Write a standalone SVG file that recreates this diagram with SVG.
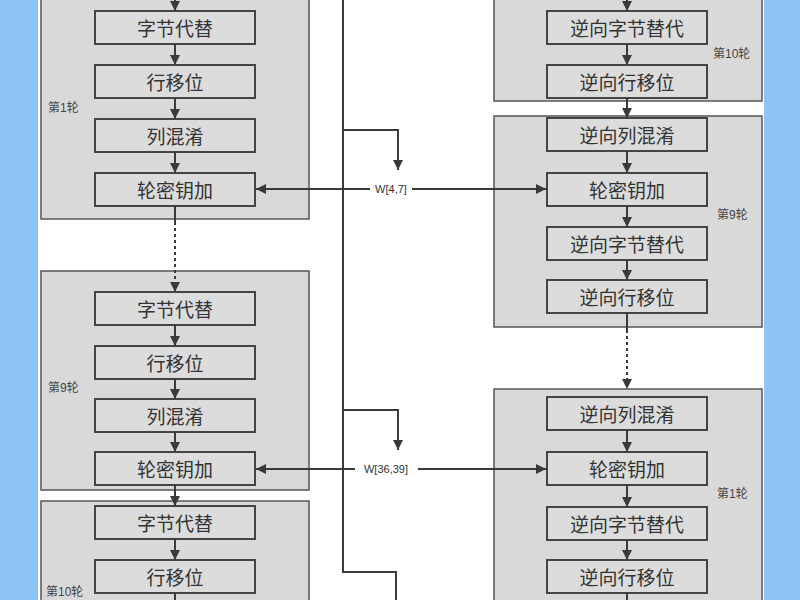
<svg xmlns="http://www.w3.org/2000/svg" width="800" height="600" viewBox="0 0 800 600">
<defs>
<marker id="ah" viewBox="0 0 10 10" refX="10" refY="5" markerWidth="10" markerHeight="10" markerUnits="userSpaceOnUse" orient="auto"><path d="M0,0 L10,5 L0,10 z" fill="#3a3a3a"/></marker>
<style>
.outer{fill:#d9d9d9;stroke:#555;stroke-width:1.5}
.box{fill:#dcdcdc;stroke:#444;stroke-width:2}
.t{font-family:"Noto Sans CJK SC","Liberation Serif",serif;font-size:19px;fill:#333;text-anchor:middle;dominant-baseline:central}
.l{font-family:"Liberation Sans","Noto Sans CJK SC",sans-serif;font-size:12px;fill:#444}
.w{font-family:"Liberation Sans",sans-serif;font-size:11px;fill:#333;text-anchor:middle;dominant-baseline:central}
.c{fill:none;stroke:#3a3a3a;stroke-width:2}
.a{fill:none;stroke:#3a3a3a;stroke-width:2;marker-end:url(#ah)}
</style>
</defs>
<rect width="800" height="600" fill="#fff"/>
<rect x="0" y="0" width="38" height="600" fill="#8ec5f7"/>
<rect x="764" y="0" width="36" height="600" fill="#8ec5f7"/>
<g id="round1"><rect class="outer" x="41" y="-5" width="268" height="224"/><text class="l" x="48" y="112">第1轮</text></g>
<g id="round9"><rect class="outer" x="41" y="271" width="268" height="219"/><text class="l" x="48" y="392">第9轮</text></g>
<g id="round10"><rect class="outer" x="41" y="501" width="268" height="110"/><text class="l" x="46" y="596">第10轮</text></g>
<g id="iround10"><rect class="outer" x="494" y="-5" width="268" height="106"/><text class="l" x="713" y="58">第10轮</text></g>
<g id="iround9"><rect class="outer" x="494" y="116" width="268" height="211"/><text class="l" x="717" y="219">第9轮</text></g>
<g id="iround1"><rect class="outer" x="494" y="389" width="268" height="220"/><text class="l" x="717" y="498">第1轮</text></g>
<g id="l1"><rect class="box" x="95" y="11" width="160" height="33"/><text class="t" x="175" y="27">字节代替</text></g>
<g id="l2"><rect class="box" x="95" y="65" width="160" height="33"/><text class="t" x="175" y="81">行移位</text></g>
<g id="l3"><rect class="box" x="95" y="119" width="160" height="33"/><text class="t" x="175" y="135">列混淆</text></g>
<g id="l4"><rect class="box" x="95" y="173" width="160" height="33"/><text class="t" x="175" y="189">轮密钥加</text></g>
<g id="l5"><rect class="box" x="95" y="292" width="160" height="33"/><text class="t" x="175" y="308">字节代替</text></g>
<g id="l6"><rect class="box" x="95" y="346" width="160" height="33"/><text class="t" x="175" y="362">行移位</text></g>
<g id="l7"><rect class="box" x="95" y="399" width="160" height="33"/><text class="t" x="175" y="415">列混淆</text></g>
<g id="l8"><rect class="box" x="95" y="452" width="160" height="33"/><text class="t" x="175" y="468">轮密钥加</text></g>
<g id="l9"><rect class="box" x="95" y="506" width="160" height="33"/><text class="t" x="175" y="522">字节代替</text></g>
<g id="l10"><rect class="box" x="95" y="560" width="160" height="33"/><text class="t" x="175" y="576">行移位</text></g>
<g id="r1"><rect class="box" x="547" y="11" width="160" height="33"/><text class="t" x="627" y="27">逆向字节替代</text></g>
<g id="r2"><rect class="box" x="547" y="65" width="160" height="33"/><text class="t" x="627" y="81">逆向行移位</text></g>
<g id="r3"><rect class="box" x="547" y="118" width="160" height="33"/><text class="t" x="627" y="134">逆向列混淆</text></g>
<g id="r4"><rect class="box" x="547" y="173" width="160" height="33"/><text class="t" x="627" y="189">轮密钥加</text></g>
<g id="r5"><rect class="box" x="547" y="227" width="160" height="33"/><text class="t" x="627" y="243">逆向字节替代</text></g>
<g id="r6"><rect class="box" x="547" y="280" width="160" height="33"/><text class="t" x="627" y="296">逆向行移位</text></g>
<g id="r7"><rect class="box" x="547" y="397" width="160" height="33"/><text class="t" x="627" y="413">逆向列混淆</text></g>
<g id="r8"><rect class="box" x="547" y="452" width="160" height="33"/><text class="t" x="627" y="468">轮密钥加</text></g>
<g id="r9"><rect class="box" x="547" y="507" width="160" height="33"/><text class="t" x="627" y="523">逆向字节替代</text></g>
<g id="r10"><rect class="box" x="547" y="560" width="160" height="33"/><text class="t" x="627" y="576">逆向行移位</text></g>
<g id="wlabels"><text class="w" x="391" y="189">W[4,7]</text><text class="w" x="386" y="469">W[36,39]</text></g>
<g id="connectors">
<path class="a" d="M175,-2 V11"/><path class="a" d="M175,44 V65"/><path class="a" d="M175,98 V119"/><path class="a" d="M175,152 V173"/>
<path class="c" d="M175,206 V222"/><path class="a" d="M175,222 V292" stroke-dasharray="3,3"/>
<path class="a" d="M175,325 V346"/><path class="a" d="M175,379 V399"/><path class="a" d="M175,432 V452"/><path class="a" d="M175,485 V506"/><path class="a" d="M175,539 V560"/><path class="c" d="M175,593 V600"/>
<path class="a" d="M627,-2 V11"/><path class="a" d="M627,44 V65"/><path class="a" d="M627,98 V118"/><path class="a" d="M627,151 V173"/><path class="a" d="M627,206 V227"/><path class="a" d="M627,260 V280"/>
<path class="c" d="M627,313 V330"/><path class="a" d="M627,330 V389" stroke-dasharray="3,3"/>
<path class="a" d="M627,430 V452"/><path class="a" d="M627,485 V507"/><path class="a" d="M627,540 V560"/><path class="c" d="M627,593 V600"/>
<path class="c" d="M343,0 V572 H396 V600"/>
<path class="a" d="M343,130 H398 V170"/><path class="a" d="M370,189 H256"/><path class="a" d="M412,189 H546"/>
<path class="a" d="M343,410 H398 V450"/><path class="a" d="M355,469 H256"/><path class="a" d="M418,469 H546"/>
</g>
</svg>
